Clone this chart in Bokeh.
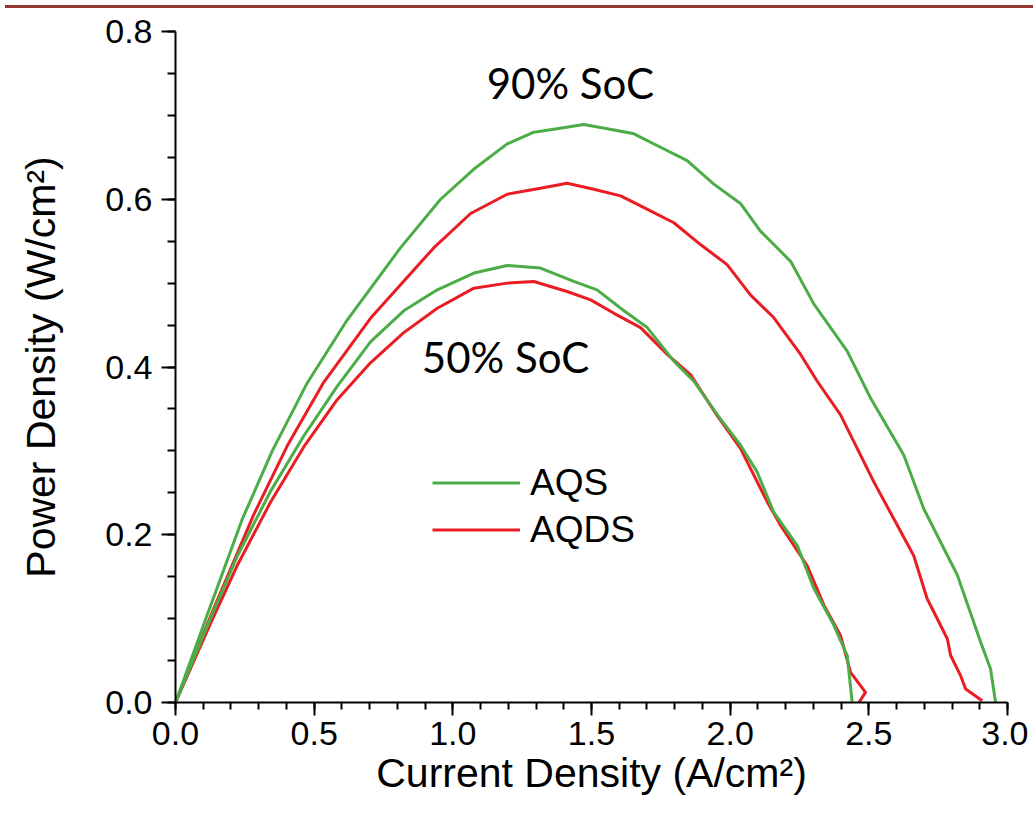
from bokeh.plotting import figure
from bokeh.models import FixedTicker, Legend, LegendItem, Div, PrintfTickFormatter
from bokeh.layouts import column
from bokeh.core.properties import value
from bokeh.embed import file_html
from bokeh.resources import INLINE

# ---- data ----
aqs90_x = [0, 0.114, 0.240, 0.349, 0.475, 0.619, 0.811, 0.956, 1.076, 1.196, 1.292, 1.376, 1.472,
           1.557, 1.653, 1.749, 1.845, 1.941, 2.037, 2.109, 2.218, 2.302, 2.422, 2.506, 2.626, 2.698,
           2.819, 2.903, 2.939, 2.957]
aqs90_y = [0, 0.104, 0.218, 0.300, 0.381, 0.456, 0.542, 0.600, 0.636, 0.666, 0.680, 0.684, 0.689,
           0.684, 0.678, 0.662, 0.646, 0.618, 0.595, 0.562, 0.526, 0.475, 0.419, 0.363, 0.295, 0.231,
           0.152, 0.072, 0.040, 0.0]

aqds90_x = [0, 0.138, 0.282, 0.403, 0.535, 0.703, 0.931, 1.064, 1.196, 1.316, 1.412, 1.508, 1.605,
            1.677, 1.797, 1.893, 1.989, 2.073, 2.157, 2.254, 2.314, 2.398, 2.458, 2.518, 2.590, 2.662,
            2.710, 2.783, 2.795, 2.831, 2.849, 2.909]
aqds90_y = [0, 0.112, 0.224, 0.306, 0.382, 0.458, 0.542, 0.583, 0.606, 0.613, 0.619, 0.612, 0.604,
            0.592, 0.572, 0.546, 0.522, 0.486, 0.459, 0.415, 0.383, 0.343, 0.303, 0.263, 0.219, 0.175,
            0.124, 0.076, 0.056, 0.032, 0.016, 0.002]

aqs50_x = [0, 0.126, 0.222, 0.343, 0.463, 0.583, 0.703, 0.823, 0.944, 1.076, 1.196, 1.316, 1.436,
           1.520, 1.617, 1.701, 1.797, 1.869, 1.965, 2.037, 2.097, 2.157, 2.242, 2.302, 2.374, 2.422,
           2.440]
aqs50_y = [0, 0.100, 0.174, 0.252, 0.318, 0.377, 0.430, 0.467, 0.492, 0.512, 0.521, 0.518, 0.502,
           0.492, 0.467, 0.447, 0.407, 0.383, 0.338, 0.307, 0.275, 0.227, 0.187, 0.136, 0.092, 0.056,
           0.0]

aqds50_x = [0, 0.126, 0.222, 0.343, 0.463, 0.583, 0.703, 0.823, 0.944, 1.076, 1.196, 1.292, 1.412,
            1.497, 1.581, 1.677, 1.773, 1.857, 1.953, 2.037, 2.134, 2.182, 2.278, 2.338, 2.398, 2.434,
            2.488, 2.464]
aqds50_y = [0, 0.094, 0.163, 0.239, 0.305, 0.361, 0.405, 0.441, 0.470, 0.494, 0.500, 0.502, 0.490,
            0.480, 0.464, 0.447, 0.415, 0.391, 0.342, 0.303, 0.239, 0.211, 0.163, 0.116, 0.080, 0.036,
            0.012, 0.0]

x_ticks = [0.0, 0.5, 1.0, 1.5, 2.0, 2.5, 3.0]
y_ticks = [0.0, 0.2, 0.4, 0.6, 0.8]
x_minor = [i / 10 for i in range(0, 31)]
y_minor = [i / 20 for i in range(0, 17)]

series_labels = ["AQS", "AQDS"]
soc_labels = ["90% SoC", "50% SoC"]

GREEN = "#4cad48"
RED = "#ea1c24"
FONT = "Liberation Sans"

p = figure(width=1028, height=815, x_range=(0, 3.0), y_range=(0, 0.8),
           output_backend="svg", toolbar_location=None,
           min_border_left=175, min_border_right=21, min_border_top=18, min_border_bottom=126)
p.outline_line_color = None
p.xgrid.visible = False
p.ygrid.visible = False
p.background_fill_color = "white"

# lines: reds underneath, greens on top
r90 = p.line(aqds90_x, aqds90_y, line_color=RED, line_width=3, line_join="round")
r50 = p.line(aqds50_x, aqds50_y, line_color=RED, line_width=3, line_join="round")
g90 = p.line(aqs90_x, aqs90_y, line_color=GREEN, line_width=3, line_join="round")
g50 = p.line(aqs50_x, aqs50_y, line_color=GREEN, line_width=3, line_join="round")

p.text(x=[1.424, 1.19], y=[0.739, 0.412], text=soc_labels,
       text_font=value("Lato"), text_font_size="42px", text_align="center",
       text_baseline="alphabetic", text_color="black")

legend = Legend(items=[LegendItem(label=series_labels[0], renderers=[g90]),
                       LegendItem(label=series_labels[1], renderers=[r90])],
                location=(257, 149), border_line_color=None, background_fill_alpha=0,
                padding=0, margin=0, spacing=0, glyph_width=88, glyph_height=47,
                label_height=47, label_standoff=10, label_text_font_size="37px",
                label_text_font=FONT, label_text_color="black")
p.add_layout(legend)

# axes
for ax in (p.xaxis[0], p.yaxis[0]):
    ax.axis_line_width = 2
    ax.axis_line_color = "black"
    ax.major_tick_line_width = 2
    ax.minor_tick_line_width = 2
    ax.major_tick_line_color = "black"
    ax.minor_tick_line_color = "black"
    ax.major_tick_in = 0
    ax.minor_tick_in = 0
    ax.major_label_text_font = FONT
    ax.major_label_text_font_size = "34px"
    ax.major_label_text_color = "black"
    ax.axis_label_text_font = FONT
    ax.axis_label_text_font_style = "normal"
    ax.axis_label_text_font_size = "41px"
    ax.axis_label_text_color = "black"
    ax.formatter = PrintfTickFormatter(format="%.1f")

p.xaxis.ticker = FixedTicker(ticks=x_ticks, minor_ticks=x_minor)
p.yaxis.ticker = FixedTicker(ticks=y_ticks, minor_ticks=y_minor)
p.xaxis.major_tick_out = 13
p.xaxis.minor_tick_out = 7
p.yaxis.major_tick_out = 14
p.yaxis.minor_tick_out = 8
p.xaxis.major_label_standoff = 6
p.yaxis.major_label_standoff = 9
p.xaxis.axis_label = "Current Density (A/cm²)"
p.yaxis.axis_label = "Power Density (W/cm²)"
p.xaxis.axis_label_standoff = 2
p.yaxis.axis_label_standoff = 38

bar = Div(text="", width=1028, height=3, styles={"background-color": "#943634"})
layout = column(bar, p, spacing=0)

open("out.html", "w").write(file_html(layout, INLINE))
